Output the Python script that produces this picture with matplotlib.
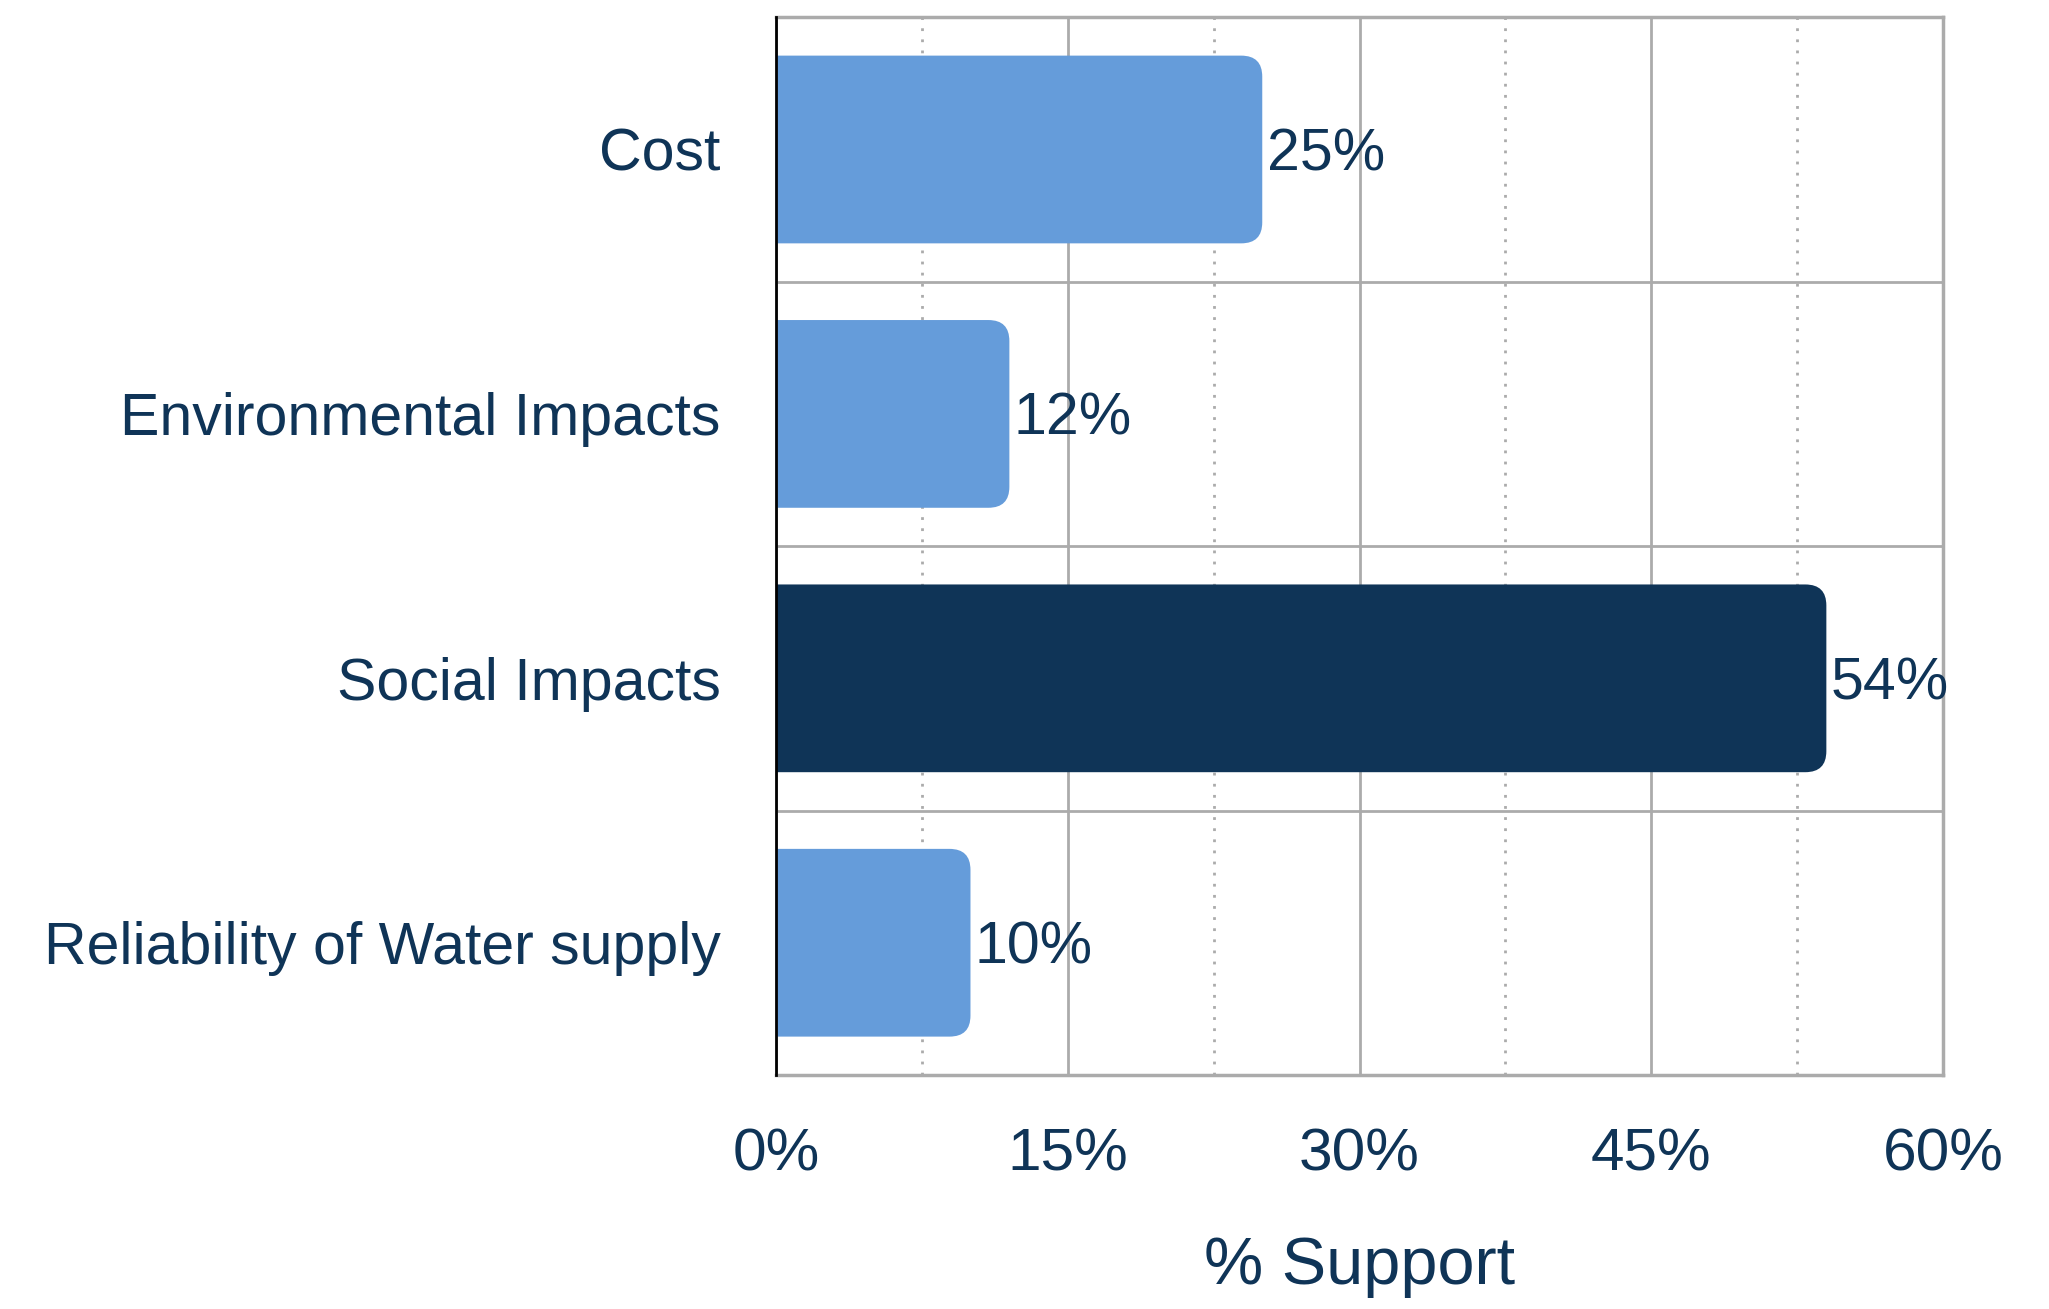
import matplotlib
matplotlib.use("Agg")
import matplotlib.pyplot as plt
from matplotlib.patches import FancyBboxPatch
from matplotlib.ticker import FixedLocator, FuncFormatter

categories = ["Cost", "Environmental Impacts", "Social Impacts", "Reliability of Water supply"]
values = [25, 12, 54, 10]
highlight = [False, False, True, False]
x_ticks = [0, 15, 30, 45, 60]
x_minor = [7.5, 22.5, 37.5, 52.5]

LIGHT = "#659CDA"
DARK = "#0F3457"
TEXT = "#0F3457"
GRID = "#ABABAB"

plt.rcParams["font.family"] = ["Liberation Sans", "DejaVu Sans"]

fig = plt.figure(figsize=(20.49, 13.09), dpi=100)
ax = fig.add_axes([0.3787, 0.1788, 0.5696, 0.8080])

ypos = list(range(len(categories)))
bars = ax.barh(ypos, values, height=0.71, color=LIGHT)
ax.set_xlim(0, 60)
ax.set_ylim(len(categories) - 0.5, -0.5)

fig.canvas.draw()
# pixel scales for rounded corners
x0p, _ = ax.transData.transform((0, 0))
x1p, _ = ax.transData.transform((1, 0))
_, y0p = ax.transData.transform((0, 0))
_, y1p = ax.transData.transform((0, 1))
px_per_x = abs(x1p - x0p)
px_per_y = abs(y1p - y0p)
radius_px = 21
rx = radius_px / px_per_x
ry = radius_px / px_per_y
aspect = ry / rx

for bar, hl, v in zip(bars, highlight, values):
    x, y = bar.get_x(), bar.get_y()
    w, h = bar.get_width(), bar.get_height()
    bar.set_visible(False)
    patch = FancyBboxPatch((x - rx, y), w + rx, h,
                           boxstyle=f"round,pad=0,rounding_size={rx}",
                           mutation_aspect=aspect,
                           facecolor=DARK if hl else LIGHT, edgecolor="none", zorder=3)
    ax.add_patch(patch)
    ax.text(w + 0.22, y + h / 2 + 0.02, f"{int(v)}%",
            va="center", ha="left", fontsize=42.5, color=TEXT, zorder=4)

# grid
ax.xaxis.set_major_locator(FixedLocator(x_ticks))
ax.xaxis.set_minor_locator(FixedLocator(x_minor))
ax.xaxis.set_major_formatter(FuncFormatter(lambda v, p: f"{int(v)}%"))
ax.yaxis.set_major_locator(FixedLocator(ypos))
ax.yaxis.set_minor_locator(FixedLocator([i + 0.5 for i in ypos[:-1]]))
ax.set_yticklabels(categories)

ax.grid(which="major", axis="x", color=GRID, linewidth=2, linestyle="-", zorder=0)
ax.grid(which="minor", axis="x", color=GRID, linewidth=2, linestyle=(0, (1, 3)), zorder=0)
ax.grid(which="minor", axis="y", color=GRID, linewidth=2, linestyle="-", zorder=0)
ax.set_axisbelow(True)

ax.tick_params(which="both", length=0)
ax.tick_params(axis="x", pad=38, labelsize=43.5, labelcolor=TEXT)
ax.tick_params(axis="y", pad=40, labelsize=42.5, labelcolor=TEXT)

for side in ["top", "right", "bottom"]:
    ax.spines[side].set_color(GRID)
    ax.spines[side].set_linewidth(2.5)
ax.spines["left"].set_color("black")
ax.spines["left"].set_linewidth(2)
ax.spines["left"].set_zorder(5)

ax.set_xlabel("% Support", fontsize=48, color=TEXT, labelpad=38)

fig.savefig("out.png", dpi=100)
